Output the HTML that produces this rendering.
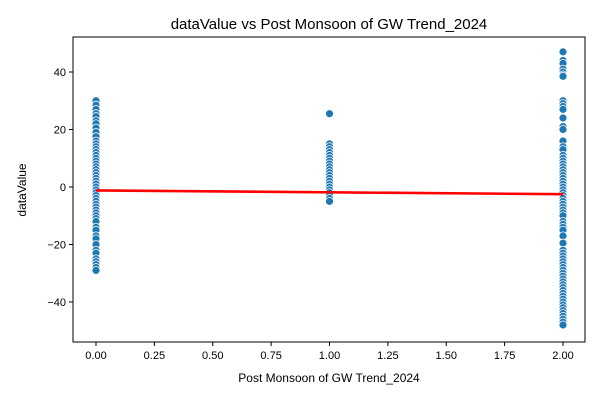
<!DOCTYPE html>
<html><head><meta charset="utf-8"><style>
body{margin:0;background:#fff;font-family:"Liberation Sans","DejaVu Sans",sans-serif}
</style></head><body>
<svg id="chart" width="600" height="400" xmlns="http://www.w3.org/2000/svg">
<rect width="600" height="400" fill="#fff"/>
<text x="329" y="29" text-anchor="middle" font-size="15">dataValue vs Post Monsoon of GW Trend_2024</text>
<g id="points"></g>
<g id="axes"></g>
<text x="329" y="382" text-anchor="middle" font-size="12">Post Monsoon of GW Trend_2024</text>
<text x="26" y="190" text-anchor="middle" font-size="12" transform="rotate(-90 26 190)">dataValue</text>
</svg>
<script>
const xTicks=[0,0.25,0.5,0.75,1,1.25,1.5,1.75,2];
const xTickLabels=["0.00","0.25","0.50","0.75","1.00","1.25","1.50","1.75","2.00"];
const yTicks=[-40,-20,0,20,40];
const yTickLabels=["−40","−20","0","20","40"];
const cat0=[30,28.5,27,25.5,24.5,23,22,20.5,19,17.5,16,15,14,13,12,11,10,9,8,7,6,5,4,3,2,1,0,-1,-2,-3,-4,-5,-6,-7,-8,-9,-10,-11,-12,-14,-15,-17,-18,-20,-22,-23,-25,-26,-27,-28,-29];
const cat1=[25.5,15,14,13,12,11,10,9,8,7,6,5,4,3,2,1,0,-1,-2,-3,-4,-5];
const cat2=[47,44,43,41,40,39,38.5,30,29,28,27,24,21,20,16,14,13,11,10,9,8,7,6,5,4,3,2,1,0,-1,-2,-3,-4,-5,-6,-7,-8,-9,-10,-12,-13,-14,-15,-17,-19.5,-22,-23,-24,-25,-26,-27,-28,-29,-30,-31,-32,-33,-34,-35,-36,-37,-38,-39,-40,-41,-42,-43,-44,-45,-46,-47,-48];
const trendX=[0,2];
const trendY=[-1.2,-2.5];
const L=73,R=585,T=37,B=342;
const sx=v=>96+v*(563-96)/2;
const sy=v=>187-v*(115/40);
const NS="http://www.w3.org/2000/svg";
const svg=document.getElementById('chart'),pg=document.getElementById('points'),ag=document.getElementById('axes');
function mk(t,a,p){const e=document.createElementNS(NS,t);for(const k in a)e.setAttribute(k,a[k]);(p||svg).appendChild(e);return e;}
[[0,cat0],[1,cat1],[2,cat2]].forEach(([c,arr])=>{arr.forEach(v=>{
const e=mk('circle',{cx:sx(c),cy:sy(v),r:4,fill:'#1f77b4',stroke:'#fff','stroke-width':0.8},pg);


});});
const tl=mk('line',{x1:sx(trendX[0]),y1:sy(trendY[0]),x2:sx(trendX[1]),y2:sy(trendY[1]),stroke:'#ff0000','stroke-width':2.6});


const fr=mk('rect',{x:L,y:T,width:R-L,height:B-T,fill:'none',stroke:'#000','stroke-width':1},ag);


xTicks.forEach((v,i)=>{
mk('line',{x1:sx(v),x2:sx(v),y1:B,y2:B+4,stroke:'#000'},ag);
const t=mk('text',{x:sx(v),y:B+17,'text-anchor':'middle','font-size':11},ag);t.textContent=xTickLabels[i];


});
yTicks.forEach((v,i)=>{
mk('line',{x1:L-4,x2:L,y1:sy(v),y2:sy(v),stroke:'#000'},ag);
const t=mk('text',{x:L-7,y:sy(v)+4,'text-anchor':'end','font-size':11},ag);t.textContent=yTickLabels[i];


});
</script>
</body></html>
